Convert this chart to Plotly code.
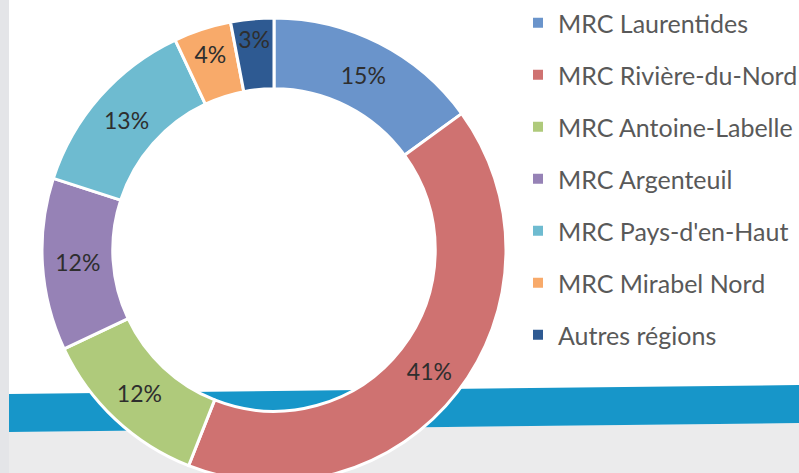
import plotly.graph_objects as go

# ---- data ----
labels = ["MRC Laurentides", "MRC Rivière-du-Nord", "MRC Antoine-Labelle",
          "MRC Argenteuil", "MRC Pays-d'en-Haut", "MRC Mirabel Nord", "Autres régions"]
values = [15, 41, 12, 12, 13, 4, 3]
colors = ["#6a94cb", "#cf7271", "#afca7b", "#9682b6", "#6ebbd0", "#f8aa6a", "#2e5a92"]

W, H = 799, 490


def px_x(x):
    return x / W


def px_y(y):
    return 1 - y / H


fig = go.Figure()

fig.add_trace(go.Pie(
    labels=labels,
    values=values,
    sort=False,
    direction="clockwise",
    rotation=0,
    hole=0.695,
    marker=dict(colors=colors, line=dict(color="white", width=3)),
    texttemplate="%{percent:.0%}",
    textposition="inside",
    insidetextorientation="horizontal",
    textfont=dict(family="Lato", size=23, color="#2e2e2e"),
    showlegend=False,
    domain=dict(x=[px_x(42), px_x(506)], y=[px_y(482), px_y(18)]),
    hoverinfo="label+percent",
))

# legend entries (one per category, same colours)
for lab, col in zip(labels, colors):
    fig.add_trace(go.Scatter(
        x=[None], y=[None], mode="markers", name=lab, legendgroup=lab,
        marker=dict(symbol="square", size=10, color=col),
        showlegend=True, hoverinfo="skip",
    ))

shapes = [
    # left grey strip
    dict(type="rect", xref="paper", yref="paper", x0=0, x1=px_x(9), y0=0, y1=1,
         fillcolor="#e4e5e8", line=dict(width=0), layer="below"),
    # bottom grey area
    dict(type="path", xref="paper", yref="paper",
         path=f"M {px_x(9)},{px_y(432)} L 1,{px_y(423)} L 1,0 L {px_x(9)},0 Z",
         fillcolor="#ebebec", line=dict(width=0), layer="below"),
    # blue band
    dict(type="path", xref="paper", yref="paper",
         path=f"M {px_x(9)},{px_y(394)} L 1,{px_y(385)} L 1,{px_y(423)} L {px_x(9)},{px_y(432)} Z",
         fillcolor="#1796c9", line=dict(width=0), layer="below"),
]

fig.update_layout(
    width=W, height=H, autosize=False,
    margin=dict(l=0, r=0, t=0, b=0, autoexpand=False),
    paper_bgcolor="white", plot_bgcolor="rgba(0,0,0,0)",
    xaxis=dict(visible=False), yaxis=dict(visible=False),
    shapes=shapes,
    uniformtext=dict(minsize=23, mode="show"),
    legend=dict(
        x=px_x(518), y=1, xanchor="left", yanchor="top",
        font=dict(family="Lato", size=25, color="#595959"),
        tracegroupgap=16.5, bgcolor="rgba(0,0,0,0)",
    ),
    font=dict(family="Lato"),
)

fig.write_html(
    "out.html",
    config={"displayModeBar": False},
    post_script=("document.body.style.margin='0';"
                 "document.body.style.overflow='hidden';"
                 "document.documentElement.style.overflow='hidden';"),
)
